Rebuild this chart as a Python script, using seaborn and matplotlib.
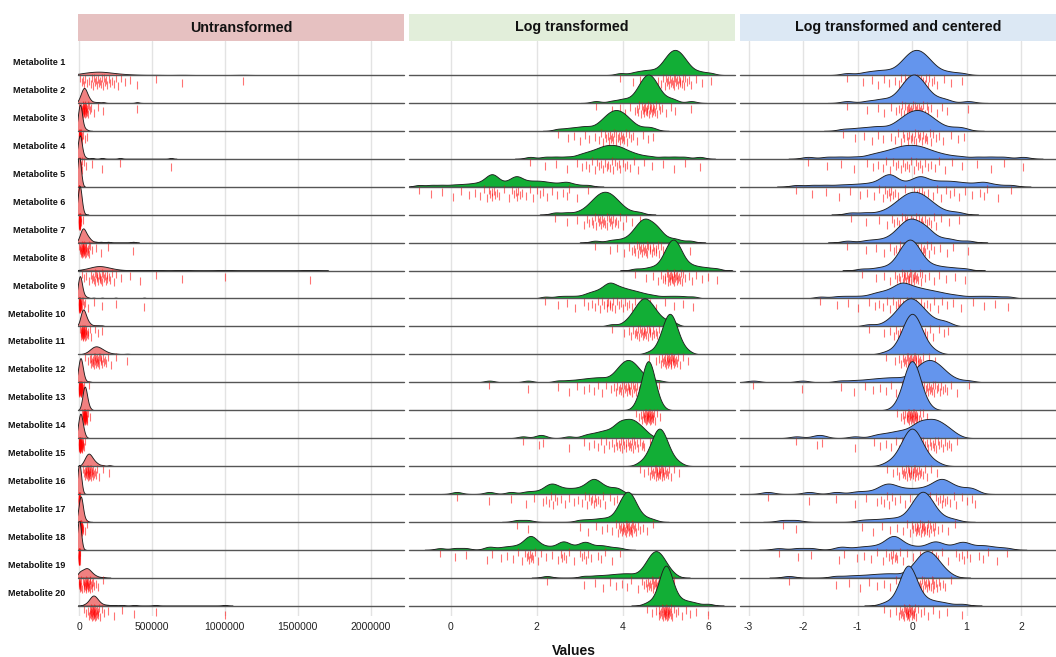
import numpy as np
import matplotlib
matplotlib.use("Agg")
import matplotlib.pyplot as plt
from matplotlib.patches import Rectangle
import seaborn as sns

# log10 intensities per metabolite, estimated from the log-transformed panel
met_1 = [3.95, 4.25, 4.4, 4.52, 4.62, 4.72, 4.83, 4.9, 4.94, 4.98, 5.01, 5.04, 5.06, 5.09,
         5.11, 5.13, 5.15, 5.17, 5.19, 5.21, 5.23, 5.25, 5.27, 5.29, 5.31, 5.33, 5.35, 5.38,
         5.4, 5.43, 5.46, 5.5, 5.54, 5.6, 5.72, 5.85, 6.05]
met_2 = [3.38, 3.75, 3.95, 4.05, 4.18, 4.28, 4.33, 4.36, 4.39, 4.42, 4.45, 4.47, 4.49, 4.51,
         4.52, 4.54, 4.56, 4.57, 4.59, 4.61, 4.63, 4.64, 4.66, 4.68, 4.7, 4.71, 4.73, 4.75,
         4.78, 4.81, 4.84, 4.87, 4.92, 5.02, 5.12, 5.22, 5.6]
met_3 = [2.5, 2.72, 2.88, 3.02, 3.13, 3.23, 3.37, 3.45, 3.5, 3.55, 3.59, 3.62, 3.66, 3.68,
         3.71, 3.74, 3.76, 3.79, 3.81, 3.84, 3.86, 3.89, 3.91, 3.94, 3.96, 3.99, 4.02, 4.04,
         4.08, 4.11, 4.15, 4.2, 4.25, 4.33, 4.47, 4.6, 4.72]
met_4 = [1.85, 2.2, 2.45, 2.7, 2.93, 3.05, 3.14, 3.22, 3.29, 3.35, 3.41, 3.46, 3.51, 3.55,
         3.59, 3.63, 3.67, 3.71, 3.75, 3.79, 3.83, 3.87, 3.91, 3.95, 4.0, 4.05, 4.11, 4.18,
         4.26, 4.36, 4.5, 4.68, 4.95, 5.2, 5.45, 5.8]
met_5 = [-0.74, -0.45, -0.2, 0.05, 0.25, 0.42, 0.56, 0.68, 0.78, 0.84, 0.88, 0.92, 0.95,
         0.97, 1.0, 1.03, 1.07, 1.13, 1.25, 1.36, 1.42, 1.47, 1.51, 1.54, 1.57, 1.61, 1.67,
         1.76, 1.84, 1.92, 2.0, 2.08, 2.16, 2.25, 2.36, 2.48, 2.62, 2.7, 2.76, 2.95, 3.2]
met_6 = [2.43, 2.7, 2.95, 3.1, 3.18, 3.23, 3.28, 3.32, 3.36, 3.39, 3.42, 3.45, 3.47, 3.5,
         3.53, 3.55, 3.58, 3.6, 3.63, 3.65, 3.68, 3.71, 3.73, 3.76, 3.79, 3.82, 3.86, 3.9,
         3.95, 4.0, 4.08, 4.23, 4.41]
met_7 = [3.36, 3.7, 3.88, 4.03, 4.15, 4.21, 4.26, 4.3, 4.33, 4.36, 4.39, 4.41, 4.43, 4.46,
         4.48, 4.5, 4.52, 4.54, 4.56, 4.58, 4.6, 4.63, 4.65, 4.68, 4.71, 4.74, 4.77, 4.79,
         4.82, 4.85, 4.89, 4.95, 5.06, 5.18, 5.3, 5.57]
met_8 = [4.3, 4.55, 4.7, 4.82, 4.9, 4.95, 4.98, 5.0, 5.03, 5.05, 5.07, 5.08, 5.1, 5.11,
         5.13, 5.15, 5.16, 5.17, 5.19, 5.2, 5.21, 5.23, 5.25, 5.26, 5.28, 5.29, 5.31, 5.33,
         5.36, 5.38, 5.41, 5.46, 5.54, 5.62, 5.72, 5.85, 6.0, 6.2]
met_9 = [2.2, 2.5, 2.7, 2.9, 3.1, 3.2, 3.28, 3.35, 3.42, 3.48, 3.53, 3.58, 3.63, 3.65,
         3.67, 3.71, 3.72, 3.75, 3.79, 3.83, 3.87, 3.91, 3.96, 4.0, 4.05, 4.1, 4.16, 4.22,
         4.28, 4.35, 4.43, 4.52, 4.64, 4.78, 5.0, 5.2, 5.4, 5.65]
met_10 = [3.75, 4.03, 4.14, 4.2, 4.24, 4.28, 4.31, 4.34, 4.37, 4.39, 4.41, 4.43, 4.45,
          4.47, 4.49, 4.51, 4.53, 4.55, 4.57, 4.59, 4.61, 4.63, 4.65, 4.68, 4.71, 4.74,
          4.77, 4.81, 4.86, 4.92, 5.03, 5.12, 5.2]
met_11 = [4.62, 4.79, 4.86, 4.9, 4.93, 4.95, 4.97, 4.99, 5.0, 5.02, 5.03, 5.04, 5.06, 5.07,
          5.08, 5.09, 5.11, 5.12, 5.13, 5.14, 5.16, 5.17, 5.18, 5.2, 5.21, 5.23, 5.25, 5.27,
          5.3, 5.34, 5.41, 5.52]
met_12 = [0.9, 1.8, 2.5, 2.75, 2.95, 3.1, 3.22, 3.33, 3.43, 3.52, 3.62, 3.74, 3.8, 3.85,
          3.88, 3.92, 3.94, 3.97, 3.99, 4.02, 4.04, 4.06, 4.08, 4.1, 4.12, 4.14, 4.16, 4.18,
          4.2, 4.22, 4.24, 4.27, 4.29, 4.32, 4.34, 4.38, 4.41, 4.46, 4.52, 4.64, 4.85]
met_13 = [4.32, 4.39, 4.44, 4.46, 4.48, 4.5, 4.51, 4.52, 4.53, 4.54, 4.55, 4.56, 4.57, 4.58,
          4.59, 4.6, 4.6, 4.61, 4.62, 4.63, 4.64, 4.65, 4.66, 4.67, 4.68, 4.69, 4.7, 4.72,
          4.74, 4.76, 4.81, 4.88]
met_14 = [1.68, 2.05, 2.15, 2.75, 3.1, 3.22, 3.33, 3.42, 3.5, 3.57, 3.62, 3.69, 3.76, 3.8,
          3.84, 3.88, 3.91, 3.93, 3.96, 3.98, 4.0, 4.03, 4.07, 4.09, 4.13, 4.15, 4.18,
          4.2, 4.22, 4.24, 4.27, 4.3, 4.33, 4.36, 4.4, 4.45, 4.48, 4.51, 4.63]
met_15 = [4.4, 4.51, 4.59, 4.63, 4.67, 4.69, 4.71, 4.73, 4.75, 4.77, 4.78, 4.8, 4.81, 4.83,
          4.84, 4.85, 4.87, 4.88, 4.89, 4.91, 4.92, 4.94, 4.95, 4.97, 4.99, 5.01, 5.03, 5.06,
          5.09, 5.13, 5.21, 5.32]
met_16 = [0.14, 0.9, 1.4, 1.75, 1.95, 2.14, 2.22, 2.28, 2.33, 2.37, 2.42, 2.48, 2.56, 2.66,
          2.76, 2.86, 2.96, 3.05, 3.12, 3.18, 3.23, 3.27, 3.3, 3.33, 3.36, 3.39, 3.43, 3.48,
          3.55, 3.6, 3.7, 3.8, 3.88, 3.94]
met_17 = [1.55, 1.8, 3.0, 3.2, 3.38, 3.52, 3.64, 3.76, 3.84, 3.89, 3.92, 3.94, 3.97, 3.99,
          4.01, 4.02, 4.04, 4.05, 4.07, 4.09, 4.1, 4.11, 4.13, 4.14, 4.15, 4.17, 4.19, 4.2,
          4.22, 4.23, 4.25, 4.27, 4.3, 4.32, 4.35, 4.4, 4.48, 4.58, 4.72]
met_18 = [-0.25, 0.1, 0.35, 0.85, 0.95, 1.18, 1.32, 1.45, 1.56, 1.66, 1.72, 1.77, 1.81,
          1.83, 1.85, 1.88, 1.9, 1.92, 1.97, 2.03, 2.1, 2.22, 2.35, 2.5, 2.56, 2.6, 2.64,
          2.68, 2.75, 2.86, 3.0, 3.06, 3.11, 3.15, 3.2, 3.27, 3.42, 3.5, 3.6, 3.75, 3.94]
met_19 = [2.24, 3.1, 3.35, 3.55, 3.72, 3.86, 3.98, 4.1, 4.2, 4.35, 4.45, 4.5, 4.54, 4.57,
          4.6, 4.62, 4.65, 4.67, 4.68, 4.7, 4.72, 4.74, 4.75, 4.77, 4.79, 4.81, 4.82, 4.84,
          4.86, 4.88, 4.89, 4.91, 4.94, 4.96, 4.99, 5.02, 5.06, 5.11, 5.21]
met_20 = [4.56, 4.68, 4.78, 4.84, 4.86, 4.88, 4.9, 4.91, 4.93, 4.94, 4.95, 4.96, 4.97, 4.98,
          4.99, 5.0, 5.01, 5.01, 5.02, 5.03, 5.04, 5.05, 5.06, 5.07, 5.08, 5.09, 5.11, 5.12,
          5.14, 5.16, 5.19, 5.24, 5.3, 5.38, 5.47, 5.58, 5.72, 6.0]

log_values = [met_1, met_2, met_3, met_4, met_5, met_6, met_7, met_8, met_9, met_10,
              met_11, met_12, met_13, met_14, met_15, met_16, met_17, met_18, met_19, met_20]
metabolites = [f"Metabolite {i}" for i in range(1, 21)]

panel_titles = ["Untransformed", "Log transformed", "Log transformed and centered"]
raw_ticks = [0, 500000, 1000000, 1500000, 2000000]
log_ticks = [0, 2, 4, 6]
centered_ticks = [-3, -2, -1, 0, 1, 2]

sns.set_theme(style="white")
plt.rcParams["font.family"] = ["Liberation Sans", "DejaVu Sans"]
plt.rcParams["axes.unicode_minus"] = False

W, H = 1056, 657
fig = plt.figure(figsize=(W / 100, H / 100), dpi=100)


def fx(px):
    return px / W


def fy(py):
    return 1 - py / H


def nrd0_bw(floor, adjust):
    # R's bw.nrd0 rule (for ~200 samples per ridge), as a factor of the sd
    def bw(kde):
        x = np.asarray(kde.dataset).ravel()
        sd = x.std(ddof=1)
        q75, q25 = np.percentile(x, [75, 25])
        b = adjust * 0.9 * min(sd, (q75 - q25) / 1.34) * 200 ** -0.2
        return max(b, floor) / sd
    return bw


def fixed_bw(width):
    def bw(kde):
        return width / np.asarray(kde.dataset).ravel().std(ddof=1)
    return bw


panels = [
    dict(x0=78, x1=404, xlim=(-6859, 2229080), ticks=raw_ticks,
         fill="#F08080", strip="#E6C1C1", row_h=29,
         tf=lambda v: 10 ** np.asarray(v), bw=nrd0_bw(13000, 1.6)),
    dict(x0=409, x1=735, xlim=(-0.971, 6.619), ticks=log_ticks,
         fill="#12AE36", strip="#E2EEDA", row_h=60,
         tf=lambda v: np.asarray(v), bw=fixed_bw(0.12)),
    dict(x0=740, x1=1056, xlim=(-3.156, 2.642), ticks=centered_ticks,
         fill="#6495ED", strip="#DCE8F4", row_h=60,
         tf=lambda v: np.asarray(v) - np.mean(v), bw=fixed_bw(0.12)),
]

baselines = [75 + 27.93 * i for i in range(len(metabolites))]
top_px, bottom_px = 41, 616
jitter_px = [3, 7, 5, 10, 4, 8, 6, 9, 2.5, 11]

for p, title in zip(panels, panel_titles):
    x0, x1 = p["x0"], p["x1"]
    # background axes: grid and x ticks
    bg = fig.add_axes([fx(x0), fy(bottom_px), fx(x1 - x0), (bottom_px - top_px) / H])
    bg.set_xlim(p["xlim"])
    bg.set_ylim(0, 1)
    for t in p["ticks"]:
        bg.axvline(t, color="#E3E3E3", lw=1.0, zorder=0)
    bg.set_xticks(p["ticks"])
    bg.set_xticklabels([str(t) for t in p["ticks"]], fontsize=7.5, color="#222222")
    bg.tick_params(axis="x", length=0, pad=4)
    bg.set_yticks([])
    for s in bg.spines.values():
        s.set_visible(False)
    bg.patch.set_alpha(0)

    # facet strip
    fig.patches.append(Rectangle((fx(x0), fy(41)), fx(x1 - x0), 27 / H,
                                 transform=fig.transFigure, facecolor=p["strip"],
                                 edgecolor="none"))
    fig.text(fx((x0 + x1) / 2), fy(27.5), title, ha="center", va="center",
             fontsize=10.3, fontweight="bold", color="#111111")

    row_axes, peaks = [], []
    for i, vals in enumerate(log_values):
        data = p["tf"](vals)
        h = p["row_h"]
        ax = fig.add_axes([fx(x0), fy(baselines[i]), fx(x1 - x0), h / H])
        sns.kdeplot(x=data, ax=ax, fill=True, color=p["fill"], alpha=1,
                    edgecolor="#1e1e1e", linewidth=0.65, bw_method=p["bw"],
                    cut=3, gridsize=600)
        peaks.append(ax.collections[0].get_paths()[0].vertices[:, 1].max())
        ax.axhline(0, color="#555555", lw=1.0, clip_on=False)
        yoff = [-jitter_px[k % len(jitter_px)] / h for k in range(len(data))]
        sns.scatterplot(x=data, y=yoff, ax=ax, marker="|", s=30, color="#FF0000",
                        alpha=0.55, linewidth=0.8, transform=ax.get_xaxis_transform(),
                        clip_on=False, legend=False)
        ax.set_xlim(p["xlim"])
        ax.axis("off")
        row_axes.append(ax)

    if p["row_h"] < 40:
        px_per_unit = 15 / peaks[1]
    else:
        px_per_unit = 49 / max(peaks)
    for ax in row_axes:
        ax.set_ylim(0, p["row_h"] / px_per_unit)

for name, yb in zip(metabolites, baselines):
    fig.text(fx(65), fy(yb - 12.3), name, ha="right", va="center",
             fontsize=6.5, fontweight="bold", color="#111111")

fig.text(fx(574), fy(651), "Values", ha="center", va="center",
         fontsize=10, fontweight="bold", color="#111111")

fig.savefig("out.png", dpi=100)
